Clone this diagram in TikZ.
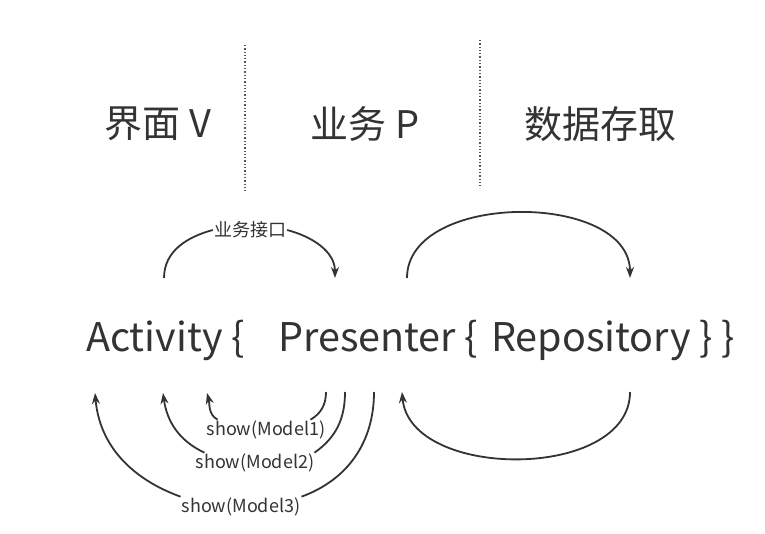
\documentclass[tikz,border=0pt]{standalone}
\usepackage{fontspec}
\setmainfont{Noto Sans CJK SC}
\usepackage{tikz}
\usetikzlibrary{arrows.meta, positioning}
\definecolor{mydark}{RGB}{51,51,51}
\definecolor{mygray}{RGB}{85,85,85}
\tikzset{
  header/.style={font=\fontsize{38}{42}\selectfont, text=mydark, inner sep=0pt},
  layer/.style={font=\fontsize{39.5}{44}\selectfont, text=mydark,
    inner sep=0pt, anchor=base west},
  elabel/.style={font=\fontsize{18}{20}\selectfont, text=mydark, inner sep=1pt},
  arrow/.style={-{Stealth[length=11pt,width=8pt]}, line width=1.8pt, color=mydark},
  divider/.style={line width=1.3pt, color=mygray, dash pattern=on 1.3pt off 2pt}
}

\begin{document}
\begin{tikzpicture}[x=1pt, y=1pt]
  \fill[white] (0,0) rectangle (765,-534);
  \useasboundingbox (0,0) rectangle (765,-534);
  % ── layer headers ─────────────────────────────────────────────────────────
  \node[header] (view) at (158,-124) {界面 V};
  \node[header] (biz)  at (365,-124) {业务 P};
  \node[header] (data) at (600,-124) {数据存取};
  \draw[divider] (245,-45) -- (245,-191);
  \draw[divider] (480,-40) -- (480,-186);
  % ── nested code line ──────────────────────────────────────────────────────
  \node[layer] (act)  at (86,-351)  {Activity \{};
  \node[layer] (pre)  at (278,-351) {Presenter \{};
  \node[layer] (repo) at (491,-351) {Repository \} \}};
  % ── calls going right (top) ───────────────────────────────────────────────
  \coordinate (ifcS) at (164,-278);
  \coordinate (ifcE) at (335,-278);
  \node[elabel] (ifc) at (250,-230) {业务接口};
  \draw[arrow] (ifcS) to[out=90,in=195] (ifc.west)
    (ifc.east) to[out=-15,in=90] (ifcE);
  \coordinate (repS) at (407,-278);
  \coordinate (repE) at (630,-278);
  \draw[arrow] (repS) to[out=90,in=90] (repE);
  % ── results going back (bottom) ───────────────────────────────────────────
  \coordinate (retS) at (630,-392);
  \coordinate (retE) at (402,-392);
  \draw[arrow] (retS) to[out=-90,in=-85] (retE);
  % show(Model1)
  \coordinate (m1S) at (326,-392);
  \coordinate (m1E) at (207,-393);
  \node[elabel] (m1) at (266,-430) {show(Model1)};
  \draw[arrow] (m1S) to[out=-90,in=30] ([xshift=-16pt]m1.north east)
    ([xshift=12pt]m1.north west) to[out=150,in=-75] (m1E);
  % show(Model2)
  \coordinate (m2S) at (345,-392);
  \coordinate (m2E) at (163,-393);
  \node[elabel] (m2) at (255,-463) {show(Model2)};
  \draw[arrow] (m2S) to[out=-90,in=35] ([xshift=-1pt]m2.north east)
    ([xshift=10pt]m2.north west) to[out=155,in=-82] (m2E);
  % show(Model3)
  \coordinate (m3S) at (374,-392);
  \coordinate (m3E) at (95,-393);
  \node[elabel] (m3) at (241,-507) {show(Model3)};
  \draw[arrow] (m3S) to[out=-90,in=20] (m3.north east)
    (m3.north west) to[out=160,in=-85] (m3E);
\end{tikzpicture}
\end{document}
